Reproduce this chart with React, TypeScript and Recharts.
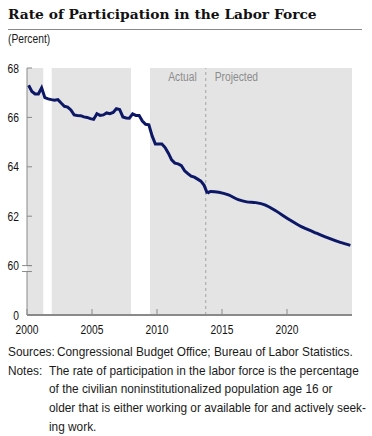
import { LineChart, Line, XAxis, YAxis, ReferenceArea, ReferenceLine } from 'recharts';

// quarterly labor force participation rate, actual (percent)
const years = [2000, 2001, 2002, 2003, 2004, 2005, 2006, 2007, 2008, 2009, 2010, 2011, 2012, 2013];
const quarterlyRate = [
  [67.3, 67.05, 66.95, 66.95],
  [67.2, 66.8, 66.75, 66.72],
  [66.7, 66.72, 66.58, 66.45],
  [66.42, 66.3, 66.1, 66.08],
  [66.07, 66.02, 66.0, 65.95],
  [65.92, 66.15, 66.08, 66.1],
  [66.18, 66.15, 66.2, 66.35],
  [66.32, 66.02, 65.98, 65.97],
  [66.14, 66.08, 66.08, 65.85],
  [65.72, 65.7, 65.25, 64.92],
  [64.92, 64.92, 64.78, 64.55],
  [64.28, 64.15, 64.12, 64.05],
  [63.84, 63.72, 63.62, 63.58],
  [63.5, 63.42, 63.25, 62.92]
];

// CBO projection
const projectedYears = [2013.875, 2014.125, 2014.75, 2015.5, 2016.25, 2016.9, 2017.6, 2018.3, 2019.1, 2020.1, 2021.1, 2022.1, 2023.1, 2024.1, 2024.875];
const projectedRate = [62.92, 63.0, 62.97, 62.86, 62.67, 62.58, 62.55, 62.46, 62.23, 61.89, 61.58, 61.35, 61.13, 60.94, 60.82];

const recessions = [
  [2001.25, 2001.9],
  [2008.0, 2009.46]
];
const projectionStart = 2013.75;

const xTicks = [2000, 2005, 2010, 2015, 2020];
const yTicks = [58, 60, 62, 64, 66, 68];
const yTickLabels: Record<number, string> = { 58: '0' };
const breakLow = 59.76;

const actualData = years.flatMap((y, i) => quarterlyRate[i].map((v, q) => ({ year: y + (q + 0.5) / 4, rate: v })));
const projectedData = projectedYears.map((y, i) => ({ year: y, rate: projectedRate[i] }));

const SANS = '"Liberation Sans", Arial, sans-serif';
const NARROW = 0.82; // squeeze Arial-metric sans into a condensed face
const NOTE_NARROW = 0.91;
const AXIS = '#8a8a8a';
const NAVY = '#0c1766';

function PhaseLabels(props: any) {
  const { x, y } = props.viewBox;
  return (
    <g fontFamily={SANS} fontSize={12.5} fill="#8c8c8c">
      <text transform={`translate(${x - 9},${y + 13}) scale(${NARROW},1)`} textAnchor="end">Actual</text>
      <text transform={`translate(${x + 9},${y + 13}) scale(${NARROW},1)`} textAnchor="start">Projected</text>
    </g>
  );
}

function XTick(props: any) {
  const { x, y, payload } = props;
  return (
    <text transform={`translate(${x},${y + 8.5}) scale(${NARROW},1)`} textAnchor="middle" fontFamily={SANS} fontSize={12.5} fill="#111">
      {payload.value}
    </text>
  );
}

function YTick(props: any) {
  const { x, y, payload } = props;
  return (
    <text transform={`translate(${x},${y + 4.5}) scale(${NARROW},1)`} textAnchor="end" fontFamily={SANS} fontSize={12.5} fill="#111">
      {yTickLabels[payload.value] ?? payload.value}
    </text>
  );
}

const squeeze = (k: number) => ({ transform: `scaleX(${k})`, transformOrigin: '0 0', whiteSpace: 'nowrap' as const });

export default function App() {
  return (
    <div style={{ position: 'absolute', left: 0, top: 0, width: 372, height: 436, background: '#fff', fontFamily: SANS, color: '#1a1a1a', overflow: 'hidden' }}>
      <div style={{ position: 'absolute', left: 8, top: 4, fontFamily: '"DejaVu Serif", serif', fontWeight: 'bold', fontSize: 13.8, lineHeight: '20px', color: '#111', whiteSpace: 'nowrap' }}>
        Rate of Participation in the Labor Force
      </div>
      <div style={{ position: 'absolute', left: 8, top: 29, width: 354, height: 1, background: '#888' }} />
      <div style={{ position: 'absolute', left: 8, top: 32, fontSize: 12.5, lineHeight: '14px', ...squeeze(NARROW) }}>(Percent)</div>

      <div style={{ position: 'absolute', left: 0, top: 0 }}>
        <LineChart width={372} height={340} margin={{ top: 68, right: 20, left: 7, bottom: 0 }}>
          <XAxis
            dataKey="year"
            type="number"
            domain={[2000, 2025]}
            ticks={xTicks}
            allowDataOverflow
            height={25}
            tickSize={-6}
            tickMargin={16}
            axisLine={{ stroke: AXIS, strokeWidth: 2 }}
            tickLine={{ stroke: AXIS }}
            tick={<XTick />}
          />
          <YAxis
            type="number"
            domain={[58, 68]}
            ticks={yTicks}
            allowDataOverflow
            width={20}
            tickSize={-5}
            tickMargin={13}
            axisLine={false}
            tickLine={{ stroke: AXIS }}
            tick={<YTick />}
          />
          <ReferenceArea x1={2000} x2={2025} y1={58} y2={68} fill="#e4e4e4" fillOpacity={1} stroke="none" />
          {recessions.map(([a, b]) => (
            <ReferenceArea key={a} x1={a} x2={b} y1={58} y2={68} fill="#ffffff" fillOpacity={1} stroke="none" />
          ))}
          <ReferenceLine segment={[{ x: 2000, y: 68 }, { x: 2000, y: 60 }]} stroke={AXIS} ifOverflow="visible" />
          <ReferenceLine segment={[{ x: 2000, y: breakLow }, { x: 2000, y: 58 }]} stroke={AXIS} ifOverflow="visible" />
          <ReferenceLine segment={[{ x: 1999.62, y: 60 }, { x: 2000.38, y: 60 }]} stroke={AXIS} ifOverflow="visible" />
          <ReferenceLine segment={[{ x: 1999.62, y: breakLow }, { x: 2000.38, y: breakLow }]} stroke={AXIS} ifOverflow="visible" />
          <ReferenceLine x={projectionStart} stroke="#a5a5a5" strokeDasharray="3 3" label={<PhaseLabels />} />
          <Line data={actualData} dataKey="rate" type="linear" stroke={NAVY} strokeWidth={3} dot={false} isAnimationActive={false} />
          <Line data={projectedData} dataKey="rate" type="monotone" stroke={NAVY} strokeWidth={3} dot={false} isAnimationActive={false} />
        </LineChart>
      </div>

      <div style={{ position: 'absolute', left: 8, top: 343, fontSize: 13, lineHeight: '18.7px', ...squeeze(NOTE_NARROW) }}>
        <div>
          <span style={{ display: 'inline-block', width: 49 / NOTE_NARROW }}>Sources:</span>Congressional Budget Office; Bureau of Labor Statistics.
        </div>
        <div style={{ position: 'relative', paddingLeft: 41 / NOTE_NARROW }}>
          <span style={{ position: 'absolute', left: 0 }}>Notes:</span>
          <div>The rate of participation in the labor force is the percentage</div>
          <div>of the civilian noninstitutionalized population age 16 or</div>
          <div>older that is either working or available for and actively seek-</div>
          <div>ing work.</div>
        </div>
      </div>
    </div>
  );
}
